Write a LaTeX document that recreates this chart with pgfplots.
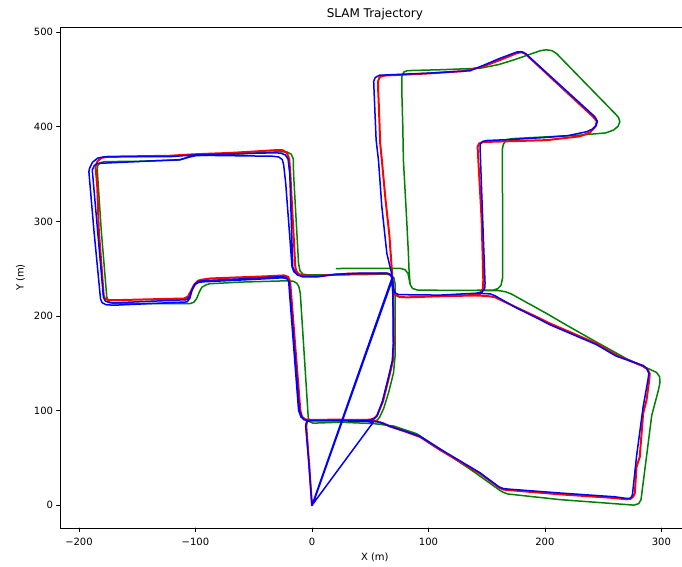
\documentclass[border=0pt]{standalone}
\usepackage{fontspec}
\setmainfont{DejaVu Sans}
\usepackage{pgfplots}
\pgfplotsset{compat=1.18}
\definecolor{trajred}{rgb}{1,0,0}
\definecolor{trajgreen}{rgb}{0,0.5,0}
\definecolor{trajblue}{rgb}{0,0,1}

\begin{document}
\begin{tikzpicture}
\path[use as bounding box] (-60bp,-38bp) rectangle (622bp,528.1bp);
\begin{axis}[
  at={(0,0)}, anchor=south west,
  scale only axis, width=629.7bp, height=501.1bp,
  xmin=-216.3, xmax=324.3, ymin=-24.1, ymax=505.6,
  axis line style={line width=0.8bp, black},
  tick align=outside, xtick pos=bottom, ytick pos=left,
  major tick length=3.5bp,
  tick style={line width=0.8bp, black},
  xtick={-200,-100,0,100,200,300},
  xticklabels={−200,−100,0,100,200,300},
  ytick={0,100,200,300,400,500},
  yticklabels={0,100,200,300,400,500},
  ticklabel style={font=\fontsize{10bp}{12bp}\selectfont},
  xticklabel style={yshift=-2.5bp},
  title={SLAM Trajectory},
  title style={font=\fontsize{12bp}{14bp}\selectfont, yshift=-2.5bp},
  xlabel={X (m)}, ylabel={Y (m)},
  label style={font=\fontsize{10bp}{12bp}\selectfont},
  xlabel style={yshift=-1bp},
  ylabel style={yshift=2bp},
  line join=round, line cap=round,
]
% ground truth
\addplot[trajgreen, line width=1.5bp] coordinates {
(21,250.3) (50,250.4) (76,250.4) (80,249) (82.5,245) (83.6,238) (84.3,233.5)
(86.3,229.3) (90.5,227.5) (120,227.2) (155.5,227.4) (159.5,229) (162.3,232.5)
(163.6,240) (163.7,300) (163.4,376) (164.3,381.5) (167,386.5) (172,387.6)
(230,391.3) (252,393.6) (258.8,396.6) (262.7,400.5) (264.3,405.4) (263.2,410)
(261.2,412.8) (210,477.5) (206,480.6) (201,481.5) (196,480.5) (172.8,470.6)
(160,465.8) (144.3,462) (110,460.4) (82,459.5) (78.8,458) (77.3,453.5)
(77.2,435) (78,400) (78.5,365) (81.4,300) (82.8,266) (83.3,250) (84.3,233.5)
(86.3,229.3) (90.5,227.5) (120,227.2) (160,227) (166,225.8) (171,223.5)
(201.5,202.7) (218.6,190.4) (241.4,174.5) (270,155) (291,143.2) (295.8,140.5)
(298.4,136) (298.8,130) (297.5,122) (291.7,95) (285.2,32) (282.5,6)
(280.5,1.8) (276.5,0.2) (272,0.6) (212.9,6) (168,12) (164,13.8) (160.5,16.5)
(140,34.6) (110,59.5) (90,75.6) (70,83.8) (52.8,86.4) (24.3,87.8) (5,87)
(1,86.8) (-1.8,88.3) (-3,91.5) (-3.3,95) (-10,224) (-11.2,231) (-13,234.8)
(-16,236.8) (-22,237.3) (-60,236) (-88,234.2) (-91.5,232.7) (-94.5,230.5)
(-96.5,226) (-99,218.5) (-101.5,214.5) (-104.5,213.3) (-170,213.3)
(-173.5,214.5) (-175.6,218) (-176.2,221) (-180.9,290.9) (-184.3,354.3)
(-184,359) (-182,362) (-178,363.3) (-150,363.6) (-115,365) (-100,369.6)
(-70,370.8) (-28,373.8) (-21.5,373.5) (-17.7,371) (-16,366) (-15.8,350.8)
(-11.5,255.6) (-10.3,248) (-7.7,244.3) (-3,243.5) (20,243.5) (50,244)
(63,244.5) (67.5,243.5) (70.3,240.5) (71.4,234) (71.4,185) (71.3,157)
(70,140) (66,120) (61.5,102) (58,93) (54.5,88)
};
% estimate
\addplot[trajred, line width=2bp] coordinates {
(0,0) (-2.5,45) (-4.9,84) (-4.2,88.3) (-1.5,90.2) (20,90.5) (45,90.3)
(50,90.5) (53.5,92) (56,95) (61,110) (66.5,137) (69.5,153) (70.3,171)
(70,200) (69.5,228) (68.8,245) (66.5,285) (63,325) (60,365) (58.6,382.5)
(57.5,420) (56.8,440) (56.8,448) (58,452.5) (61.5,454.2) (100,456.5)
(130,459) (146,463.5) (161,470.5) (175,477.5) (179.5,479) (183,477.5)
(241.4,410.7) (244.5,406) (243.5,400.5) (238.6,394) (230,390) (201.5,386)
(160,384.5) (147,384) (143.5,382.5) (142.2,379) (145.7,301.4) (147.1,238)
(146.8,229) (144.5,224) (140,222.3) (110,221) (81.4,219.8) (75,220.3)
(71.5,222.5) (70,228) (69.3,238) (68,243.3) (65,245.2) (55,245) (33,245)
(4.3,242.5) (-8,243) (-11.5,244.5) (-13.5,248) (-14.3,252) (-18.6,350.8)
(-19.5,366) (-21.5,372.5) (-25,375.3) (-30,375.5) (-53,373.7) (-70,372.5)
(-101.5,371) (-121.5,369.5) (-175,368.5) (-180.5,367.3) (-184,364)
(-185.8,358) (-184.3,336.7) (-183,290.9) (-178.8,222) (-177.8,218.5)
(-174.5,217) (-170,216.8) (-110,218.6) (-106.5,220.5) (-104.3,225.6)
(-101,233.5) (-98,237.2) (-95,238.4) (-87,239.8) (-40,242) (-24,243)
(-20.5,241.5) (-18.8,237) (-18.3,230) (-10,100.5) (-8.5,93.5) (-5.7,90.8)
(0,90.3) (20,90.5) (45,90.2) (55,89.2) (61.4,86.6) (67,83.3) (80,78)
(92.9,72.2) (110,58.5) (144.3,33.5) (161,18.5) (164.5,16.6) (170,16)
(212.9,11.6) (260,7.7) (270,6.3) (273.5,6.8) (276,9.5) (277.2,13)
(278.6,40.5) (281.4,51.1) (284.3,97) (287.2,111) (289.5,132) (290,139.3)
(288,143.8) (284.3,147) (261.5,158.6) (244.3,171) (204.3,192.2)
(195.7,197.5) (175,209.5) (157,220) (150,221.3) (140,221.8) (110,221)
(81.4,219.8) (75,220.3) (71.5,222.5) (70,228)
};
% second estimate, with its resets to the origin
\addplot[trajblue, line width=1.5bp] coordinates {
(0,0) (-2.7,45) (-5.4,84) (-4.7,88) (-2,89.5) (20,89.7) (45,89.5) (50,90)
(53.3,91.5) (55.8,94.5) (60.5,110) (66,137) (69,153) (69.8,171) (69.5,224)
(68.4,245) (64.3,266.2) (60,315.5) (57.1,364.9) (55.1,386) (53.4,435.4)
(53,448) (54.3,452.2) (58,454.6) (100,456.8) (135.7,459.3) (148,465.5)
(161.4,472.5) (176.5,479.4) (180.5,479.4) (184,476.8) (242.9,410.7)
(245,406) (244,401.5) (240.5,397.5) (235.8,394.9) (220,390.8) (201.5,388.9)
(170,386.6) (150,385.6) (146.5,384.6) (144.6,382) (144.3,379) (146.6,301.4)
(148.6,234.5) (148.3,229) (146,225.5) (141,224.2) (110,222.2) (80,222.6)
(74.5,222.6) (71.2,224.8) (69.8,230) (69.2,238) (67.8,243.3) (64.5,245.2)
(41,245.2) (20,244) (4.3,241.4) (-8,241.5) (-12,243.3) (-14.5,246.5)
(-16.5,252) (-19,350) (-20.5,366) (-23,370.5) (-27,372.3) (-33,372.6)
(-70,371.5) (-100,370.4) (-121.5,368.6) (-178,368.4) (-184,367)
(-188.5,362.5) (-191,356) (-191.5,352.5) (-187.2,290.9) (-181.5,218)
(-180,214) (-176.5,212) (-170,211.5) (-107.2,215) (-104.8,219)
(-102.9,227.4) (-100.2,233.5) (-97,235.8) (-92,236.3) (-50,238.8)
(-25,240.5) (-21.5,239.5) (-19.6,236) (-19.2,230) (-10.8,100.5) (-9,94)
(-6.5,90.5) (-2,89.3) (20,89.4) (45,89.3) (55,88.6) (61,86.5) (67,83.5)
(80,78.3) (92.5,73) (110,59.5) (144,34.6) (160.5,19.5) (164.5,17.6)
(170,17) (212.9,13) (260,9) (270,7.3) (272.7,7.3) (274.5,9) (275.2,12)
(278.6,51.1) (284.3,104) (288.5,133) (289.2,139.5) (287.5,144.5)
(284.3,147.8) (261,157.8) (244,170) (204,191) (195.5,196.5) (175,209)
(157,221.6) (152.9,223.5) (141,224.2) (110,222.2) (80,222.6) (74.5,222.6)
(71.2,224.8) (69.8,230) (68.6,239.8) (0,0) (69.2,240.6) (0.4,0)
(69.6,240.4) (66.5,244.4) (64,245.4) (41,245.4) (20,244.2) (4.3,241.6)
(-8,241.7) (-12.5,243.5) (-15.5,247) (-17.1,252) (-22.5,340) (-24.3,360)
(-25.5,365.5) (-28.5,368.2) (-34,369) (-98.6,370) (-105,368.5)
(-113,365.2) (-121.5,364.9) (-184.3,361.4) (-187,359) (-188.6,354.3)
(-184,290) (-179,220) (-177.5,216) (-174,214.3) (-170,214) (-108,217.3)
(-105,220.5) (-103.5,226.5) (-100.5,233.8) (-97.5,236.6) (-92,237.5)
(-50,240) (-25,241.8) (-21.8,240.6) (-20,237) (-19.6,230) (-11.5,100.5)
(-9.5,93.5) (-7,90.5) (-2.5,89.2) (20,89.2) (45,89) (52.5,87.6) (0,0)
};
\end{axis}
\end{tikzpicture}
\end{document}
